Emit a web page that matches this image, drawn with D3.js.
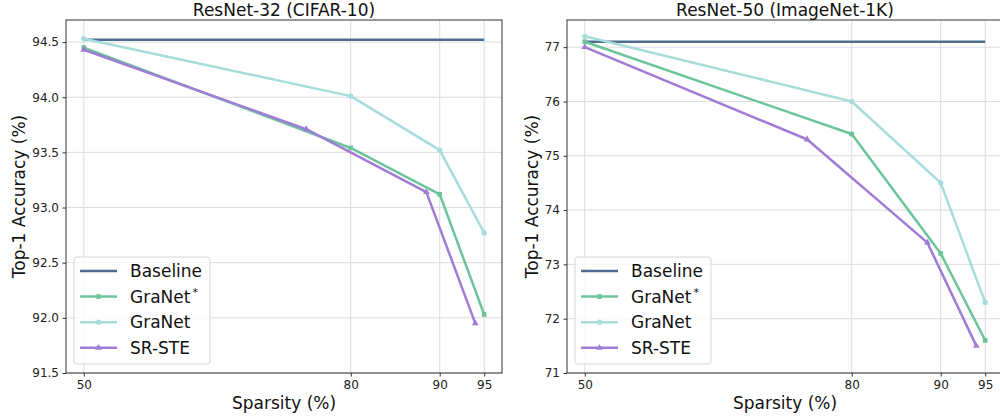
<!DOCTYPE html>
<html><head><meta charset="utf-8">
<script src="https://cdn.jsdelivr.net/npm/d3@7"></script>
<style>body{margin:0;background:#fff}svg{display:block;font-family:"DejaVu Sans",sans-serif}</style>
</head><body><svg id="c" width="1000" height="419"></svg>
<script>
const xTicks = [50, 80, 90, 95];
const panelTitles = ["ResNet-32 (CIFAR-10)", "ResNet-50 (ImageNet-1K)"];
const yTicksL = [91.5, 92.0, 92.5, 93.0, 93.5, 94.0, 94.5];
const yTicksR = [71, 72, 73, 74, 75, 76, 77];
// Left panel data
const baseL = [[50, 94.52], [95, 94.52]];
const granetStarL = [[50, 94.45], [80, 93.54], [90, 93.12], [95, 92.03]];
const granetL = [[50, 94.53], [80, 94.01], [90, 93.52], [95, 92.77]];
const srsteL = [[50, 94.43], [75, 93.71], [88.5, 93.14], [94, 91.95]];
// Right panel data
const baseR = [[50, 77.1], [95, 77.1]];
const granetStarR = [[50, 77.1], [80, 75.4], [90, 73.2], [95, 71.6]];
const granetR = [[50, 77.2], [80, 76.0], [90, 74.5], [95, 72.3]];
const srsteR = [[50, 77.0], [75, 75.3], [88.5, 73.4], [94, 71.5]];

const colors = {base: "#4e6d8e", gstar: "#6cc59a", granet: "#a7dcdc", srste: "#a07cd6"};

const svg = d3.select("#c");

function panel(x0, x1, yDom, yTicks, fmt, title, series, ylabX) {
  const top = 20, bottom = 373;
  const x = d3.scaleLinear().domain([48, 97]).range([x0, x1]);
  const y = d3.scaleLinear().domain(yDom).range([bottom, top]);
  const g = svg.append("g");
  // grid
  g.append("g").selectAll("line").data(xTicks).join("line")
    .attr("x1", d => x(d)).attr("x2", d => x(d)).attr("y1", top).attr("y2", bottom)
    .attr("stroke", "#dcdcdc").attr("stroke-width", 1);
  g.append("g").selectAll("line").data(yTicks).join("line")
    .attr("y1", d => y(d)).attr("y2", d => y(d)).attr("x1", x0).attr("x2", x1)
    .attr("stroke", "#dcdcdc").attr("stroke-width", 1);
  // axes
  const xa = g.append("g").attr("transform", `translate(0,${bottom})`)
    .call(d3.axisBottom(x).tickValues(xTicks).tickSize(3.5).tickPadding(4).tickFormat(d3.format("d")));
  const ya = g.append("g").attr("transform", `translate(${x0},0)`)
    .call(d3.axisLeft(y).tickValues(yTicks).tickSize(3.5).tickPadding(3.5).tickFormat(fmt));
  [xa, ya].forEach(a => {
    a.select(".domain").remove();
    a.selectAll("line").attr("stroke", "#333");
    a.selectAll("text").attr("font-size", 12).attr("fill", "#222").attr("font-family", "DejaVu Sans");
  });
  // frame
  g.append("rect").attr("x", x0).attr("y", top).attr("width", x1 - x0).attr("height", bottom - top)
    .attr("fill", "none").attr("stroke", "#333").attr("stroke-width", 1);
  // lines
  const line = d3.line().x(d => x(d[0])).y(d => y(d[1]));
  series.forEach(s => {
    g.append("path").datum(s.data).attr("d", line).attr("fill", "none")
      .attr("stroke", s.color).attr("stroke-width", 2.5).attr("stroke-linejoin", "round");
    if (s.marker) {
      const sym = d3.symbol().type(s.marker).size(s.size);
      g.append("g").selectAll("path").data(s.data).join("path")
        .attr("transform", d => `translate(${x(d[0])},${y(d[1])})`)
        .attr("d", sym).attr("fill", s.color);
    }
  });
  // title
  g.append("text").attr("x", (x0 + x1) / 2 ).attr("y", 15.5).attr("text-anchor", "middle")
    .attr("font-size", 17).attr("fill", "#111").text(title);
  g.append("text").attr("x", (x0 + x1) / 2).attr("y", 409).attr("text-anchor", "middle")
    .attr("font-size", 17).attr("fill", "#111").text("Sparsity (%)");
  g.append("text").attr("transform", `translate(${ylabX},${(top + bottom) / 2}) rotate(-90)`)
    .attr("text-anchor", "middle").attr("font-size", 17).attr("fill", "#111").text("Top-1 Accuracy (%)");
  // legend
  const lx = x0 + 8, ly = 257;
  g.append("rect").attr("x", lx).attr("y", ly).attr("width", 136).attr("height", 107).attr("rx", 3)
    .attr("fill", "#fff").attr("fill-opacity", 0.8).attr("stroke", "#d6d6d6").attr("stroke-width", 1);
  series.forEach((s, i) => {
    const yy = ly + 14 + i * 25.6;
    g.append("line").attr("x1", lx + 6).attr("x2", lx + 43).attr("y1", yy).attr("y2", yy)
      .attr("stroke", s.color).attr("stroke-width", 2.5);
    if (s.marker) {
      g.append("path").attr("transform", `translate(${lx + 24.5},${yy})`)
        .attr("d", d3.symbol().type(s.marker).size(s.size)()).attr("fill", s.color);
    }
    const t = g.append("text").attr("x", lx + 56).attr("y", yy + 6).attr("font-size", 17).attr("fill", "#111");
    t.append("tspan").text(s.name);
    if (s.sup) t.append("tspan").attr("dy", -7).attr("font-size", 11).attr("dx", 2).text(s.sup);
  });
}

function mk(base, gstar, gran, sr) {
  return [
    {name: "Baseline", data: base, color: colors.base},
    {name: "GraNet", sup: "*", data: gstar, color: colors.gstar, marker: d3.symbolSquare, size: 22},
    {name: "GraNet", data: gran, color: colors.granet, marker: d3.symbolCircle, size: 22},
    {name: "SR-STE", data: sr, color: colors.srste, marker: d3.symbolTriangle, size: 20}
  ];
}

panel(66, 502, [91.5, 94.7], yTicksL, d3.format(".1f"), panelTitles[0], mk(baseL, granetStarL, granetL, srsteL), 24.5);
panel(567, 1003, [71, 77.5], yTicksR, d3.format("d"), panelTitles[1], mk(baseR, granetStarR, granetR, srsteR), 537.5);
</script></body></html>
